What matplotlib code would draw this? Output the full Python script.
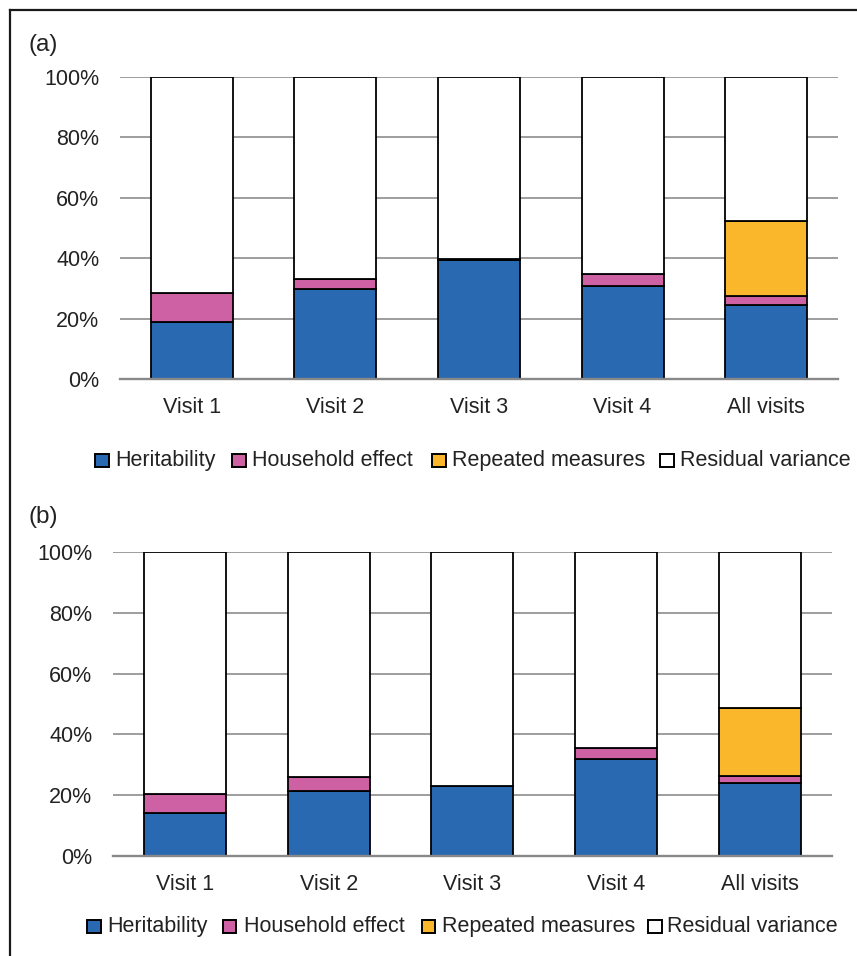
import matplotlib
matplotlib.use("Agg")
import matplotlib.pyplot as plt
from matplotlib.lines import Line2D
from matplotlib.patches import Rectangle
import numpy as np

plt.rcParams['font.family'] = ['Liberation Sans', 'DejaVu Sans']

categories = ["Visit 1", "Visit 2", "Visit 3", "Visit 4", "All visits"]
series_names = ["Heritability", "Household effect", "Repeated measures", "Residual variance"]
colors = ["#2869b2", "#ce61a4", "#fbb72c", "#ffffff"]

# Panel (a): variance components (%)
a_heritability = [19.0, 30.0, 39.5, 30.8, 24.6]
a_household = [9.5, 3.3, 0.3, 4.0, 3.0]
a_repeated = [0.0, 0.0, 0.0, 0.0, 24.6]

# Panel (b): variance components (%)
b_heritability = [14.0, 21.2, 22.9, 31.8, 24.0]
b_household = [6.3, 4.6, 0.0, 3.8, 2.3]
b_repeated = [0.0, 0.0, 0.0, 0.0, 22.4]

yticks = [0, 20, 40, 60, 80, 100]
ytick_labels = ["0%", "20%", "40%", "60%", "80%", "100%"]

W, H = 857, 956
FS = 15.5
fig = plt.figure(figsize=(W / 100, H / 100), dpi=100)


def px(x, y):
    """pixel position (from top-left) -> figure fraction"""
    return x / W, 1 - y / H


def legend_row(square_x, text_x, baseline_y, size=13.5):
    for sx, tx, col, name in zip(square_x, text_x, colors, series_names):
        x0, y0 = px(sx, baseline_y + 1)
        fig.add_artist(Rectangle((x0, y0), size / W, size / H, transform=fig.transFigure,
                                 facecolor=col, edgecolor="black", linewidth=1.4))
        fig.text(*px(tx, baseline_y), name, fontsize=FS, color="#222222",
                 ha="left", va="baseline")


def draw_panel(rect, her, hh, rep, letter, letter_xy):
    ax = fig.add_axes(rect)
    x = np.arange(len(categories))
    her = np.array(her)
    hh = np.array(hh)
    rep = np.array(rep)
    resid = 100 - her - hh - rep
    bottom = np.zeros(len(categories))
    for vals, col in zip([her, hh, rep, resid], colors):
        mask = vals > 0
        ax.bar(x[mask], vals[mask], width=0.57, bottom=bottom[mask], color=col,
               edgecolor="black", linewidth=1.3, zorder=3)
        bottom = bottom + vals
    ax.set_xlim(-0.5, len(categories) - 0.5)
    ax.set_ylim(0, 100)
    ax.set_yticks(yticks)
    ax.set_yticklabels(ytick_labels, fontsize=FS, color="#222222")
    ax.set_xticks(x)
    ax.set_xticklabels(categories, fontsize=FS, color="#222222")
    ax.tick_params(axis="y", length=0, pad=15)
    ax.tick_params(axis="x", length=0, pad=13)
    ax.yaxis.grid(True, color="#959595", linewidth=1.3, zorder=0)
    ax.set_axisbelow(True)
    for s in ["top", "right", "left"]:
        ax.spines[s].set_visible(False)
    ax.spines["bottom"].set_color("#888888")
    ax.spines["bottom"].set_linewidth(1.7)
    ax.spines["bottom"].set_zorder(4)
    fig.text(*px(*letter_xy), letter, fontsize=17.5, color="#222222",
             ha="left", va="center")
    return ax


draw_panel([0.1400, 0.6032, 0.8378, 0.3166], a_heritability, a_household, a_repeated,
           "(a)", (29, 45))
legend_row([95, 232, 432, 660], [115, 252, 452, 680], 466)

draw_panel([0.1319, 0.1049, 0.8386, 0.3174], b_heritability, b_household, b_repeated,
           "(b)", (29, 517))
legend_row([87, 223, 422, 648], [107, 244, 442, 667], 932)

# outer frame (top and left edges)
fig.add_artist(Line2D([10 / W, 1.0], [1 - 10 / H, 1 - 10 / H],
                      transform=fig.transFigure, color="#1a1a1a", linewidth=1.6))
fig.add_artist(Line2D([10 / W, 10 / W], [0.0, 1 - 10 / H],
                      transform=fig.transFigure, color="#1a1a1a", linewidth=1.6))

fig.savefig("out.png", dpi=100, facecolor="white")
